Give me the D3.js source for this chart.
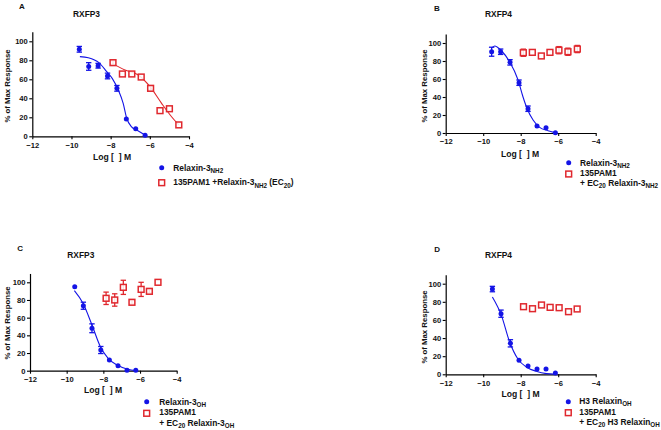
<!DOCTYPE html>
<html><head><meta charset="utf-8">
<script src="https://cdn.jsdelivr.net/npm/d3@7"></script>
<style>
body{margin:0;background:#fff}
text{font-family:"Liberation Sans",Arial,sans-serif;font-weight:bold;fill:#111}
</style>
</head><body>
<svg id="chart" width="661" height="430"></svg>
<script>
// ---------- shared axis data ----------
const xTicks = [-12, -10, -8, -6, -4];
const yTicks = [0, 20, 40, 60, 80, 100];
const xLabel = "Log [  ] M";
const yLabel = "% of Max Response";
const panelLetters = ["A", "B", "C", "D"];
const panelTitles = ["RXFP3", "RXFP4", "RXFP3", "RXFP4"];

// ---------- Panel A ----------
const aBlueX   = [-9.6, -9.12, -8.64, -8.16, -7.68, -7.2, -6.72, -6.24];
const aBlueY   = [91.6, 73.5, 74.3, 63.5, 50.5, 18.2, 8, 1];
const aBlueErr = [3, 4, 2.5, 3, 3, 0, 0, 0];
const aRedX    = [-7.88, -7.4, -6.92, -6.44, -5.96, -5.48, -5.0, -4.52];
const aRedY    = [77.5, 65.6, 65.6, 62.4, 50.5, 27, 29, 12];
const aRedErr  = [2, 0, 0, 0, 2, 0, 0, 0];
const aBlueFitX = [-9.57, -9.14, -8.6, -8.2, -7.92, -7.61, -7.36, -7.18, -6.93, -6.67, -6.25];
const aBlueFitY = [83.9, 82.7, 77.5, 68, 61, 48.7, 34.7, 19, 10, 6.6, 1.4];
const aRedFitX  = [-7.92, -7.27, -6.59, -5.99, -5.4, -4.89, -4.52];
const aRedFitY  = [76.8, 69.8, 64.5, 52.2, 34.7, 20.6, 11.9];
const aLegend = [
  [["Relaxin-3", 0], ["NH2", 1]],
  [["135PAM1 +Relaxin-3", 0], ["NH2", 1], [" (EC", 0], ["20", 1], [")", 0]]
];

// ---------- Panel B ----------
const bBlueX   = [-9.55, -9.07, -8.57, -8.09, -7.61, -7.13, -6.65, -6.15];
const bBlueY   = [90.3, 90.3, 78.5, 55.9, 27, 7.8, 5.9, 0.3];
const bBlueErr = [5, 3, 3, 3, 3, 0, 0, 0];
const bRedX    = [-7.86, -7.38, -6.9, -6.44, -5.96, -5.48, -4.98];
const bRedY    = [89.2, 89.6, 85.6, 89.6, 92, 90.3, 93.3];
const bRedErr  = [4, 0, 0, 0, 4, 4, 4];
const bBlueFitX = [-9.57, -9.39, -9.03, -8.59, -8.14, -7.88, -7.65, -7.34, -6.99, -6.54, -6.19];
const bBlueFitY = [94.1, 96.7, 91.4, 79.2, 58.9, 40.3, 26.7, 14.4, 6.3, 2.6, 0.4];
const bLegend = [
  [["Relaxin-3", 0], ["NH2", 1]],
  [["135PAM1", 0]],
  [["+ EC", 0], ["20", 1], [" Relaxin-3", 0], ["NH2", 1]]
];

// ---------- Panel C ----------
const cBlueX   = [-9.56, -9.09, -8.62, -8.14, -7.67, -7.2, -6.71, -6.23];
const cBlueY   = [95, 73.5, 48, 23.4, 12.1, 5.7, 0.5, 0.5];
const cBlueErr = [0, 4, 5, 4, 0, 0, 0, 0];
const cRedX    = [-7.85, -7.38, -6.91, -6.44, -5.94, -5.49, -5.02];
const cRedY    = [81.9, 80, 94.3, 77.4, 92, 89.8, 100];
const cRedErr  = [7, 7, 8, 2, 8, 2, 0];
const cBlueFitX = [-9.58, -9.11, -8.62, -8.16, -7.74, -7.25, -6.71, -6.16];
const cBlueFitY = [90.5, 76.2, 51.7, 27.1, 14, 6.4, 1.9, 0];
const cLegend = [
  [["Relaxin-3", 0], ["OH", 1]],
  [["135PAM1", 0]],
  [["+ EC", 0], ["20", 1], [" Relaxin-3", 0], ["OH", 1]]
];

// ---------- Panel D ----------
const dBlueX   = [-9.51, -9.05, -8.55, -8.09, -7.61, -7.13, -6.65, -6.15];
const dBlueY   = [94.1, 66.9, 34.2, 15.5, 9.1, 5.9, 5.9, 1.5];
const dBlueErr = [3, 4, 4, 0, 0, 0, 0, 0];
const dRedX    = [-7.85, -7.37, -6.89, -6.43, -5.95, -5.45, -4.99];
const dRedY    = [74.6, 72.4, 76.5, 73.9, 73.5, 69.1, 72.1];
const dRedErr  = [0, 0, 0, 0, 0, 0, 0];
const dBlueFitX = [-9.51, -9.03, -8.59, -8.14, -7.7, -7.17, -6.63, -6.1];
const dBlueFitY = [85.3, 65.1, 35.7, 16.6, 8.1, 3.3, 0.7, 0];
const dLegend = [
  [["H3 Relaxin", 0], ["OH", 1]],
  [["135PAM1", 0]],
  [["+ EC", 0], ["20", 1], [" H3 Relaxin", 0], ["OH", 1]]
];

// ---------- layout (pixel geometry, separate from data) ----------
const layouts = [
  {x0: 32.3, x1: 189, y0: 136.3, y100: 41.3, letter: [19, 8.5], title: [73, 17.3], ylab: 6.5, ylabY: 86, xlab: [112, 159.5],
   leg: {mx: 161.7, tx: 173.3, rows: [[167.7, 170.7], [182.7, 185.3]], extra: []}},
  {x0: 445.7, x1: 595.7, y0: 133, y100: 43, letter: [434, 11], title: [485, 17.3], ylab: 423.5, ylabY: 86, xlab: [520, 156.7],
   leg: {mx: 568.7, tx: 580, rows: [[162.7, 165.5], [174, 175.7]], extra: [185.7]}},
  {x0: 30, x1: 176.7, y0: 370.7, y100: 282.3, letter: [17.3, 251], title: [67.3, 258.3], ylab: 6.5, ylabY: 323, xlab: [103, 393.3],
   leg: {mx: 146.7, tx: 159.3, rows: [[401.7, 405], [413.3, 415]], extra: [425.7]}},
  {x0: 445.7, x1: 595.7, y0: 374.3, y100: 283.7, letter: [434.3, 251.7], title: [485, 258.3], ylab: 423.5, ylabY: 327, xlab: [520.5, 396.7],
   leg: {mx: 568.3, tx: 579.3, rows: [[401.7, 404], [412.7, 415]], extra: [425]}}
];

const BLUE = "#1414e6";
const RED = "#e0282e";

const panelData = [
  {bx: aBlueX, by: aBlueY, be: aBlueErr, rx: aRedX, ry: aRedY, re: aRedErr, fx: aBlueFitX, fy: aBlueFitY, rfx: aRedFitX, rfy: aRedFitY, legend: aLegend},
  {bx: bBlueX, by: bBlueY, be: bBlueErr, rx: bRedX, ry: bRedY, re: bRedErr, fx: bBlueFitX, fy: bBlueFitY, rfx: null, rfy: null, legend: bLegend},
  {bx: cBlueX, by: cBlueY, be: cBlueErr, rx: cRedX, ry: cRedY, re: cRedErr, fx: cBlueFitX, fy: cBlueFitY, rfx: null, rfy: null, legend: cLegend},
  {bx: dBlueX, by: dBlueY, be: dBlueErr, rx: dRedX, ry: dRedY, re: dRedErr, fx: dBlueFitX, fy: dBlueFitY, rfx: null, rfy: null, legend: dLegend}
];

const svg = d3.select("#chart");

function addRich(sel, segs) {
  let shift = 0;
  segs.forEach(([t, sub]) => {
    const ts = sel.append("tspan").text(t);
    const s = sub ? 2.2 : 0;
    if (sub) ts.attr("font-size", 6.3);
    ts.attr("dy", s - shift);
    shift = s;
  });
}

panelData.forEach((p, i) => {
  const L = layouts[i];
  const pxPerUnit = (L.y0 - L.y100) / 100;
  const x = d3.scaleLinear().domain([-12, -4]).range([L.x0, L.x1]);
  const y = d3.scaleLinear().domain([0, 110]).range([L.y0, L.y0 - 110 * pxPerUnit]);
  const g = svg.append("g");

  // axes
  const xa = g.append("g").attr("transform", `translate(0,${L.y0})`)
    .call(d3.axisBottom(x).tickValues(xTicks).tickSize(3).tickSizeOuter(0).tickPadding(3));
  const ya = g.append("g").attr("transform", `translate(${L.x0},0)`)
    .call(d3.axisLeft(y).tickValues(yTicks).tickSize(3).tickSizeOuter(0).tickPadding(1.5));
  [xa, ya].forEach(a => {
    a.select(".domain").attr("stroke", "#000").attr("stroke-width", 1.2);
    a.selectAll(".tick line").attr("stroke", "#000").attr("stroke-width", 1.1);
    a.selectAll(".tick text").attr("font-size", 7.6).attr("font-family", '"Liberation Sans",Arial,sans-serif').attr("font-weight", "bold").attr("fill", "#111");
  });

  // labels
  g.append("text").attr("x", L.letter[0]).attr("y", L.letter[1]).attr("font-size", 8).text(panelLetters[i]);
  g.append("text").attr("x", L.title[0]).attr("y", L.title[1]).attr("font-size", 8.4).text(panelTitles[i]);
  g.append("text").attr("transform", `translate(${L.ylab + 3},${L.ylabY}) rotate(-90)`)
    .attr("text-anchor", "middle").attr("font-size", 7.8).text(yLabel);
  g.append("text").attr("x", L.xlab[0]).attr("y", L.xlab[1]).attr("text-anchor", "middle")
    .attr("font-size", 8.6).style("white-space", "pre").text(xLabel);

  // fit curves
  const line = d3.line().x(d => x(d[0])).y(d => y(d[1])).curve(d3.curveMonotoneX);
  g.append("path").attr("d", line(p.fx.map((v, k) => [v, p.fy[k]])))
    .attr("fill", "none").attr("stroke", BLUE).attr("stroke-width", 1.1);
  if (p.rfx) {
    g.append("path").attr("d", line(p.rfx.map((v, k) => [v, p.rfy[k]])))
      .attr("fill", "none").attr("stroke", RED).attr("stroke-width", 1.1);
  }

  // error bars
  function errBars(xs, ys, es, col) {
    xs.forEach((xv, k) => {
      const e = es[k];
      if (!e) return;
      const cx = x(xv), top = y(ys[k] + e), bot = y(ys[k] - e);
      g.append("line").attr("x1", cx).attr("x2", cx).attr("y1", top).attr("y2", bot).attr("stroke", col).attr("stroke-width", 1.3);
      [top, bot].forEach(yy => g.append("line").attr("x1", cx - 2.7).attr("x2", cx + 2.7).attr("y1", yy).attr("y2", yy).attr("stroke", col).attr("stroke-width", 1.3));
    });
  }
  errBars(p.bx, p.by, p.be, BLUE);
  errBars(p.rx, p.ry, p.re, RED);

  // markers
  g.selectAll(".bpt").data(p.bx).enter().append("circle")
    .attr("cx", d => x(d)).attr("cy", (d, k) => y(p.by[k])).attr("r", 2.5).attr("fill", BLUE);
  g.selectAll(".rpt").data(p.rx).enter().append("rect")
    .attr("x", d => x(d) - 2.9).attr("y", (d, k) => y(p.ry[k]) - 2.9).attr("width", 5.8).attr("height", 5.8)
    .attr("fill", "#fff").attr("fill-opacity", 0.85).attr("stroke", RED).attr("stroke-width", 1.5);

  // legend
  const Lg = L.leg;
  g.append("circle").attr("cx", Lg.mx).attr("cy", Lg.rows[0][0]).attr("r", 2.5).attr("fill", BLUE);
  g.append("rect").attr("x", Lg.mx - 2.9).attr("y", Lg.rows[1][0] - 2.9).attr("width", 5.8).attr("height", 5.8)
    .attr("fill", "#fff").attr("stroke", RED).attr("stroke-width", 1.5);
  const baselines = [Lg.rows[0][1], Lg.rows[1][1]].concat(Lg.extra);
  p.legend.forEach((segs, k) => {
    const t = g.append("text").attr("x", Lg.tx).attr("y", baselines[k]).attr("font-size", 8.4);
    addRich(t, segs);
  });
});
</script>
</body></html>
